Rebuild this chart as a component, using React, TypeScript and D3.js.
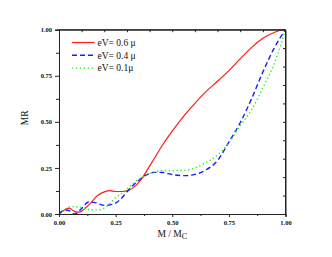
import React, { useEffect, useRef } from 'react';
import * as d3 from 'd3';

// values
const redX = [0, 0.02, 0.045, 0.07, 0.09, 0.11, 0.14, 0.17, 0.2, 0.225, 0.25, 0.28, 0.31, 0.34, 0.37, 0.4, 0.43, 0.46, 0.5, 0.55, 0.6, 0.65, 0.7, 0.75, 0.8, 0.85, 0.9, 0.95, 0.98, 1.0];
const redY = [0, 0.018, 0.032, 0.013, 0.01, 0.025, 0.06, 0.1, 0.12, 0.127, 0.122, 0.122, 0.13, 0.155, 0.2, 0.26, 0.32, 0.38, 0.45, 0.53, 0.6, 0.665, 0.72, 0.778, 0.842, 0.903, 0.953, 0.985, 0.997, 1.0];

const blueX = [0, 0.025, 0.045, 0.07, 0.1, 0.13, 0.16, 0.2, 0.24, 0.27, 0.3, 0.34, 0.38, 0.42, 0.46, 0.5, 0.55, 0.6, 0.65, 0.7, 0.75, 0.8, 0.85, 0.9, 0.95, 1.0];
const blueY = [0, 0.022, 0.018, 0.0, 0.03, 0.065, 0.062, 0.047, 0.054, 0.078, 0.12, 0.17, 0.208, 0.226, 0.225, 0.214, 0.208, 0.215, 0.24, 0.29, 0.39, 0.495, 0.625, 0.77, 0.9, 1.0];

const greenX = [0, 0.03, 0.06, 0.09, 0.12, 0.15, 0.18, 0.21, 0.25, 0.29, 0.33, 0.37, 0.42, 0.46, 0.5, 0.55, 0.6, 0.65, 0.7, 0.75, 0.8, 0.85, 0.9, 0.95, 1.0];
const greenY = [0, 0.028, 0.04, 0.038, 0.028, 0.022, 0.023, 0.04, 0.088, 0.125, 0.168, 0.2, 0.228, 0.236, 0.235, 0.237, 0.25, 0.28, 0.32, 0.386, 0.48, 0.565, 0.685, 0.815, 1.0];

const seriesNames = ['eV= 0.6 \u03bc', 'eV= 0.4 \u03bc', 'eV= 0.1\u03bc'];
const majorTicks = [0, 0.25, 0.5, 0.75, 1.0];
const minorTicks = [0.125, 0.375, 0.625, 0.875];
const tenthTicks = [0.1, 0.2, 0.3, 0.4, 0.5, 0.6, 0.7, 0.8, 0.9];

const App = () => {
  const svgRef = useRef<SVGSVGElement>(null);

  useEffect(() => {
    const width = 332;
    const height = 257;
    const margin = { top: 29.7, right: 46.5, bottom: 43, left: 59 };
    const chartWidth = width - margin.left - margin.right;
    const chartHeight = height - margin.top - margin.bottom;

    const svg = d3.select(svgRef.current).attr('width', width).attr('height', height);
    svg.selectAll('*').remove();

    const x = d3.scaleLinear().domain([0, 1]).range([0, chartWidth]);
    const y = d3.scaleLinear().domain([0, 1]).range([chartHeight, 0]);

    const g = svg.append('g').attr('transform', `translate(${margin.left},${margin.top})`);

    const series = [
      { xs: redX, ys: redY, color: '#ff1a1a', dash: null, w: 1.2 },
      { xs: blueX, ys: blueY, color: '#1a1aff', dash: '5,3', w: 1.4 },
      { xs: greenX, ys: greenY, color: '#22ee22', dash: '1.3,2.6', w: 1.4 }
    ];

    const line = d3.line<[number, number]>()
      .x(d => x(d[0]))
      .y(d => y(d[1]))
      .curve(d3.curveMonotoneX);

    const clip = g.append('clipPath').attr('id', 'plotclip');
    clip.append('rect').attr('x', 0).attr('y', -2).attr('width', chartWidth).attr('height', chartHeight + 2);

    series.forEach(s => {
      const pts = s.xs.map((v, i) => [v, s.ys[i]] as [number, number]);
      g.append('path')
        .datum(pts)
        .attr('d', line)
        .attr('fill', 'none')
        .attr('stroke', s.color)
        .attr('stroke-width', s.w)
        .attr('stroke-dasharray', s.dash)
        .attr('clip-path', 'url(#plotclip)');
    });

    const axisColor = '#222';

    // bottom axis
    const bottom = g.append('g')
      .attr('transform', `translate(0,${chartHeight})`)
      .call(d3.axisBottom(x).tickValues(majorTicks).tickFormat(d3.format('.2f')).tickSize(3).tickPadding(3));
    bottom.append('g').call(d3.axisBottom(x).tickValues(minorTicks).tickFormat(() => '').tickSize(2));

    // left axis
    const left = g.append('g')
      .call(d3.axisLeft(y).tickValues(majorTicks).tickFormat(d3.format('.2f')).tickSize(4).tickPadding(3));
    left.append('g').call(d3.axisLeft(y).tickValues(minorTicks).tickFormat(() => '').tickSize(3));

    // top and right axes, ticks inside
    g.append('g').call(d3.axisBottom(x).tickValues(tenthTicks).tickFormat(() => '').tickSize(2.5).tickSizeOuter(0));
    g.append('g')
      .attr('transform', `translate(${chartWidth},0)`)
      .call(d3.axisLeft(y).tickValues(tenthTicks).tickFormat(() => '').tickSize(2.5).tickSizeOuter(0));

    g.selectAll('.domain').attr('stroke', axisColor).attr('stroke-width', 1);
    g.selectAll('.tick line').attr('stroke', axisColor);
    g.selectAll('.tick text')
      .attr('font-family', '"Liberation Serif", "Times New Roman", serif')
      .attr('font-size', 6.5)
      .attr('font-weight', 'bold')
      .attr('fill', '#111');

    g.append('line')
      .attr('x1', 0).attr('x2', chartWidth).attr('y1', 0).attr('y2', 0)
      .attr('stroke', axisColor);
    g.append('line')
      .attr('x1', chartWidth).attr('x2', chartWidth).attr('y1', 0).attr('y2', chartHeight)
      .attr('stroke', axisColor);

    // axis titles
    const xTitle = g.append('text')
      .attr('x', chartWidth / 2)
      .attr('y', chartHeight + 23)
      .style('text-anchor', 'middle')
      .attr('font-family', '"Liberation Serif", "Times New Roman", serif')
      .attr('font-size', 9.5)
      .attr('fill', '#111');
    xTitle.append('tspan').text('M / M');
    xTitle.append('tspan').attr('dy', 2.5).attr('font-size', 8).text('C');

    g.append('text')
      .attr('transform', 'rotate(-90)')
      .attr('x', -chartHeight / 2 + 4)
      .attr('y', -margin.left + 28)
      .style('text-anchor', 'middle')
      .attr('font-family', '"Liberation Serif", "Times New Roman", serif')
      .attr('font-size', 9.5)
      .attr('fill', '#111')
      .text('MR');

    // legend
    const legend = g.append('g').attr('transform', 'translate(13,12.8)');
    series.forEach((s, i) => {
      const ly = i * 12.8;
      legend.append('line')
        .attr('x1', 0).attr('x2', 22.5)
        .attr('y1', ly).attr('y2', ly)
        .attr('stroke', s.color)
        .attr('stroke-width', s.w)
        .attr('stroke-dasharray', s.dash);
      legend.append('text')
        .attr('x', 25.5)
        .attr('y', ly + 3.2)
        .attr('font-family', '"Liberation Serif", "Times New Roman", serif')
        .attr('font-size', 9.5)
        .attr('fill', '#111')
        .text(seriesNames[i]);
    });
  }, []);

  return (
    <div style={{ position: 'absolute', left: 0, top: 0 }}>
      <svg ref={svgRef} style={{ display: 'block' }}></svg>
    </div>
  );
};

export default App;
